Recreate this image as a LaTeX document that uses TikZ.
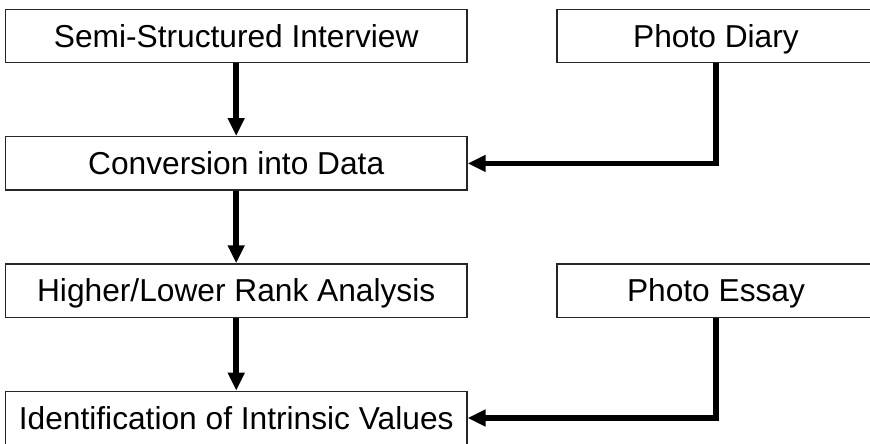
\documentclass[tikz,border=0pt]{standalone}
\usepackage{fontspec}
\setmainfont{Liberation Sans}
\usetikzlibrary{arrows.meta}
\begin{document}
\begin{tikzpicture}[x=1pt,y=-1pt,
  stepbox/.style={draw=black!85, line width=1.3pt, inner sep=0pt,
    minimum height=53.4pt, text height=22.6pt, text depth=0pt,
    font=\fontsize{31.7}{38}\selectfont},
  flow/.style={line width=5.5pt, -{Triangle[width=16pt,length=18pt]}}
]
\clip (0,0) rectangle (870,444);
\fill[white] (0,0) rectangle (870,444);
\node[stepbox, minimum width=461.7pt] (semi) at (236.2,36) {Semi-Structured Interview};
\node[stepbox, minimum width=318pt] (diary) at (716,36) {Photo Diary};
\node[stepbox, minimum width=461.7pt] (conv) at (236.2,163.4) {Conversion into Data};
\node[stepbox, minimum width=461.7pt] (rank) at (236.2,290.6) {Higher/Lower Rank Analysis};
\node[stepbox, minimum width=318pt] (essay) at (716,290.6) {Photo Essay};
\node[stepbox, minimum width=461.7pt] (ident) at (236.2,418) {Identification of Intrinsic Values};
\draw[flow] (semi) -- (conv);
\draw[flow] (conv) -- (rank);
\draw[flow] (rank) -- (ident);
\draw[flow, line join=miter] (diary.south) |- (conv.east);
\draw[flow, line join=miter] (essay.south) |- (ident.east);
\end{tikzpicture}
\end{document}
